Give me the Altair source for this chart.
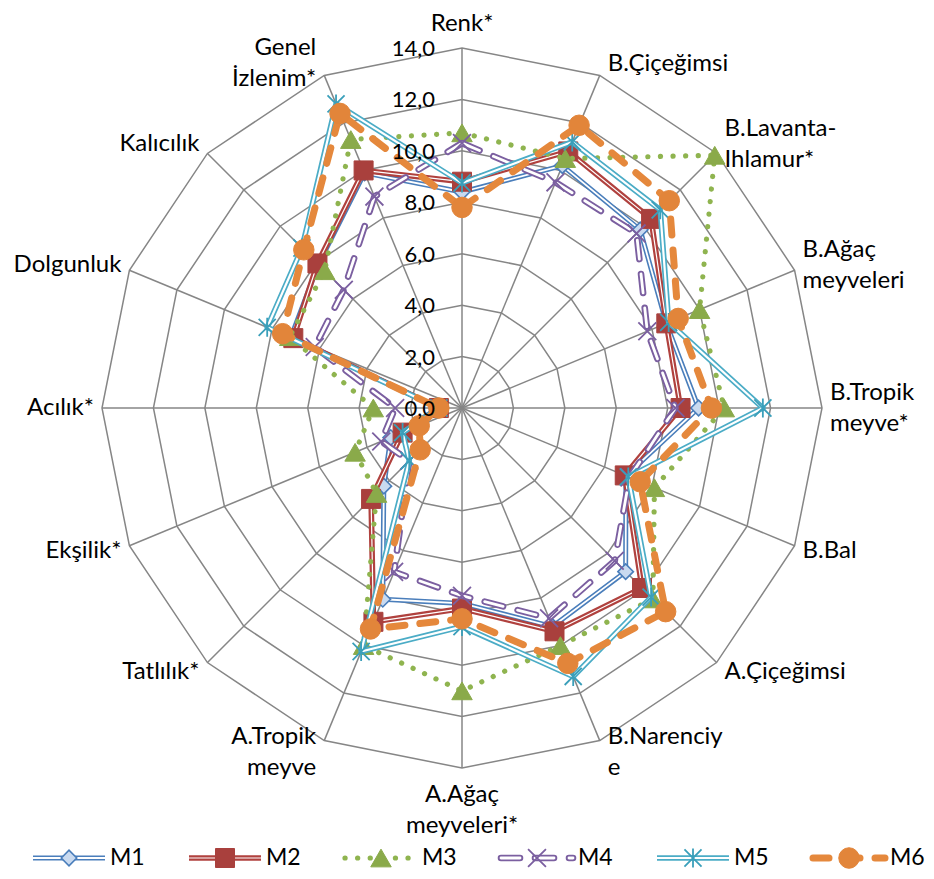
import altair as alt
import pandas as pd

# ---------------- data ----------------
categories = ["Renk*", "B.Çiçeğimsi", "B.Lavanta-Ihlamur*", "B.Ağaç meyveleri",
              "B.Tropik meyve*", "B.Bal", "A.Çiçeğimsi", "B.Narenciye",
              "A.Ağaç meyveleri*", "A.Tropik meyve", "Tatlılık*", "Ekşilik*",
              "Acılık*", "Dolgunluk", "Kalıcılık", "Genel İzlenim*"]
category_labels = ["Renk*", "B.Çiçeğimsi", "B.Lavanta-\nIhlamur*", "B.Ağaç\nmeyveleri",
                   "B.Tropik\nmeyve*", "B.Bal", "A.Çiçeğimsi", "B.Narenciy\ne",
                   "A.Ağaç\nmeyveleri*", "A.Tropik\nmeyve", "Tatlılık*", "Ekşilik*",
                   "Acılık*", "Dolgunluk", "Kalıcılık", "Genel\nİzlenim*"]
series_names = ["M1", "M2", "M3", "M4", "M5", "M6"]
M1 = [8.4, 10.2, 9.8, 8.6, 9.2, 6.9, 9.0, 9.2, 7.6, 8.05, 4.3, 3.0, 0.9, 7.2, 7.9, 9.9]
M2 = [8.8, 10.8, 10.4, 8.6, 8.5, 6.85, 9.9, 9.4, 7.8, 9.0, 5.0, 2.5, 0.9, 7.1, 7.95, 10.0]
M3 = [10.7, 10.5, 13.9, 10.0, 10.2, 8.1, 10.5, 10.0, 11.0, 10.0, 4.7, 4.5, 3.45, 7.25, 7.55, 11.3]
M4 = [10.3, 9.5, 9.6, 7.8, 8.3, 7.05, 8.4, 8.85, 7.3, 6.9, 2.9, 3.4, 2.6, 6.2, 6.5, 8.9]
M5 = [8.75, 11.2, 10.9, 8.7, 11.7, 7.0, 10.4, 11.3, 8.5, 10.25, 2.9, 2.5, 0.9, 8.2, 8.8, 12.8]
M6 = [7.8, 11.9, 11.4, 9.1, 9.7, 7.5, 11.2, 10.75, 8.2, 9.3, 2.3, 1.8, 0.9, 7.55, 8.7, 12.4]
ticks = [0, 2, 4, 6, 8, 10, 12, 14]
tick_labels = ["0,0", "2,0", "4,0", "6,0", "8,0", "10,0", "12,0", "14,0"]

series_values = [M1, M2, M3, M4, M5, M6]

# ---------------- tables ----------------
N = len(categories)
RMAX = ticks[-1]
PLOT = 720
UNIT = PLOT / (2 * RMAX)
ANG = f"datum.idx * 2 * PI / {N}"
LH = 31

rows = []
for name, vals in zip(series_names, series_values):
    for i, v in enumerate(vals):
        rows.append({"series": name, "idx": i, "cat": categories[i], "value": v})
df_vals = pd.DataFrame(rows)
df_rings = pd.DataFrame([{"ring": r, "idx": i} for r in ticks[1:] for i in range(N)])
df_spokes = pd.DataFrame({"idx": list(range(N))})
df_ticks = pd.DataFrame({"value": ticks, "label": tick_labels})
df_cats = pd.DataFrame({"idx": list(range(N)), "label": category_labels,
                        "nlines": [l.count("\n") + 1 for l in category_labels]})
df_leg = pd.DataFrame({"series": series_names})

FONT = "Lato"
FS_TICK = 22
FS_CAT = 24
FS_LEG = 23
GRID = "#868686"

xs = alt.Scale(domain=[-RMAX, RMAX], nice=False, zero=False)
ys = alt.Scale(domain=[-RMAX, RMAX], nice=False, zero=False)


def X(f):
    return alt.X(f, scale=xs, axis=None)


def Y(f):
    return alt.Y(f, scale=ys, axis=None)


styles = {
    "M1": dict(color="#4A7EBB", w=5.0, inner=1.8, marker=dict(shape="diamond", size=240, filled=True,
               fill="#C9DAF0", stroke="#4A7EBB", strokeWidth=1.6)),
    "M2": dict(color="#B0413E", w=5.6, inner=1.2, marker=dict(shape="square", size=361, filled=True,
               fill="#A9403D", stroke="#A9403D", strokeWidth=1)),
    "M3": dict(color="#8FB44F", w=5.2, dash=[0.1, 12.5], cap="round", marker=dict(shape="triangle-up", size=420,
               filled=True, fill="#8AAA4A", stroke="#8AAA4A", strokeWidth=1)),
    "M4": dict(color="#7B5FA0", w=6.6, dash=[19, 15], cap="round", inner=2.8,
               marker=dict(shape="M-1,-1L1,1M-1,1L1,-1", size=320, filled=False,
                           stroke="#7B5FA0", strokeWidth=1.8)),
    "M5": dict(color="#4BACC6", w=5.6, inner=2.2,
               marker=dict(shape="M-0.9,-0.9L0.9,0.9M-0.9,0.9L0.9,-0.9M0,-1L0,1", size=360, filled=False,
                           stroke="#3A9FBA", strokeWidth=1.8)),
    "M6": dict(color="#E5883C", w=7, dash=[16, 15], cap="round",
               marker=dict(shape="circle", size=420, filled=True, fill="#E2853A",
                           stroke="#E2853A", strokeWidth=1)),
}


def line_kw(st, inner=False):
    kw = dict(color="white" if inner else st["color"],
              strokeWidth=st["inner"] if inner else st["w"],
              strokeJoin="round")
    if "dash" in st:
        kw["strokeDash"] = st["dash"]
    if "cap" in st:
        kw["strokeCap"] = st["cap"]
    return kw


# ---------------- grid ----------------
rings = alt.Chart(df_rings).transform_calculate(a=ANG).transform_calculate(
    x="datum.ring * sin(datum.a)", y="datum.ring * cos(datum.a)"
).mark_line(interpolate="linear-closed", color=GRID, strokeWidth=1.5).encode(
    x=X("x:Q"), y=Y("y:Q"), detail="ring:N", order=alt.Order("idx:Q"))

spokes = alt.Chart(df_spokes).transform_calculate(a=ANG).transform_calculate(
    x0="0", y0="0", x=f"{RMAX} * sin(datum.a)", y=f"{RMAX} * cos(datum.a)"
).mark_rule(color=GRID, strokeWidth=1.5).encode(
    x=X("x0:Q"), y=Y("y0:Q"), x2="x:Q", y2="y:Q")

radar_layers = [rings, spokes]

base = alt.Chart(df_vals).transform_calculate(a=ANG).transform_calculate(
    x="datum.value * sin(datum.a)", y="datum.value * cos(datum.a)")

for s in series_names:
    st = styles[s]
    sub = base.transform_filter(alt.datum.series == s)
    radar_layers.append(sub.mark_line(interpolate="linear-closed", **line_kw(st)).encode(
        x=X("x:Q"), y=Y("y:Q"), order=alt.Order("idx:Q")))
    if "inner" in st:
        radar_layers.append(sub.mark_line(interpolate="linear-closed", **line_kw(st, True)).encode(
            x=X("x:Q"), y=Y("y:Q"), order=alt.Order("idx:Q")))
    radar_layers.append(sub.mark_point(opacity=1, **st["marker"]).encode(x=X("x:Q"), y=Y("y:Q")))

# tick labels
radar_layers.append(alt.Chart(df_ticks).transform_calculate(x0="0").mark_text(
    align="right", baseline="middle", dx=-27, dy=1, font=FONT, fontSize=FS_TICK, color="black"
).encode(x=X("x0:Q"), y=Y("value:Q"), text="label:N"))

# category labels
cats = alt.Chart(df_cats).transform_calculate(a=ANG).transform_calculate(
    s="sin(datum.a)", c="cos(datum.a)")
lift = f"(datum.nlines - 1) * {LH / 2} / {UNIT}"
side = cats.transform_calculate(lx=f"{RMAX} * datum.s",
                                ly=f"({RMAX} + 0.5) * datum.c + {lift}")
txt = dict(baseline="middle", font=FONT, fontSize=FS_CAT, color="black", lineBreak="\n", lineHeight=LH)
radar_layers.append(side.transform_filter("datum.s > 0.01").mark_text(align="left", dx=8, **txt).encode(
    x=X("lx:Q"), y=Y("ly:Q"), text="label:N"))
radar_layers.append(side.transform_filter("datum.s < -0.01").mark_text(align="right", dx=-8, **txt).encode(
    x=X("lx:Q"), y=Y("ly:Q"), text="label:N"))
center = cats.transform_filter("abs(datum.s) <= 0.01").transform_calculate(
    lx="0", ly=f"datum.c * ({RMAX} + (datum.nlines * 13.5 + 13 - 2.5 * datum.c) / {UNIT}) + {lift}")
radar_layers.append(center.mark_text(align="center", **txt).encode(
    x=X("lx:Q"), y=Y("ly:Q"), text="label:N"))

# ---------------- legend ----------------
LEG_Y = 810
LX = alt.X("series:N", scale=alt.Scale(type="point", domain=series_names, range=[-33, 747], padding=0),
           axis=None)
legend_layers = []
for s in series_names:
    st = styles[s]
    leg = alt.Chart(df_leg).transform_filter(alt.datum.series == s)
    legend_layers.append(leg.mark_rule(xOffset=-36, x2Offset=36, **line_kw(st)).encode(
        x=LX, x2=alt.X2("series"), y=alt.value(LEG_Y)))
    if "inner" in st:
        legend_layers.append(leg.mark_rule(xOffset=-36, x2Offset=36, **line_kw(st, True)).encode(
            x=LX, x2=alt.X2("series"), y=alt.value(LEG_Y)))
    legend_layers.append(leg.mark_point(opacity=1, **st["marker"]).encode(x=LX, y=alt.value(LEG_Y)))
    legend_layers.append(leg.mark_text(align="left", baseline="middle", dx=41, font=FONT, fontSize=FS_LEG,
                                       color="black").encode(x=LX, y=alt.value(LEG_Y), text="series:N"))

chart = alt.layer(alt.layer(*radar_layers), alt.layer(*legend_layers)).resolve_scale(
    x="independent"
).properties(
    width=PLOT, height=PLOT,
    autosize=alt.AutoSizeParams(type="none"),
    padding={"left": 94, "top": 40, "right": 104, "bottom": 103},
    background="white",
).configure_view(stroke=None)

chart.save("out.html", embed_options={"renderer": "svg", "actions": False})
